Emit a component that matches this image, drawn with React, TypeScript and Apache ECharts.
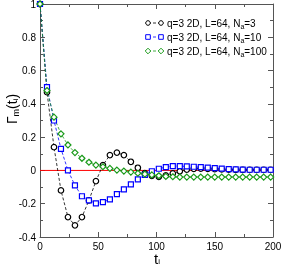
import React, { useEffect, useRef } from "react";
import * as echarts from "echarts";

const tValues = [0, 6, 12, 18, 24, 30, 36, 42, 48, 54, 60, 66, 72, 78, 84, 90, 96, 102, 108, 114, 120, 126, 132, 138, 144, 150, 156, 162, 168, 174, 180, 186, 192, 198];
const na3 = [1.0, 0.47, 0.14, -0.12, -0.28, -0.33, -0.28, -0.18, -0.064, 0.032, 0.092, 0.107, 0.092, 0.052, 0.016, -0.017, -0.032, -0.038, -0.03, -0.018, -0.005, 0.005, 0.01, 0.011, 0.01, 0.008, 0.006, 0.005, 0.004, 0.004, 0.004, 0.004, 0.004, 0.004];
const na10 = [1.0, 0.5, 0.3, 0.13, 0.0, -0.09, -0.155, -0.18, -0.198, -0.19, -0.174, -0.142, -0.114, -0.084, -0.054, -0.027, -0.005, 0.01, 0.02, 0.026, 0.026, 0.024, 0.022, 0.02, 0.017, 0.014, 0.011, 0.008, 0.006, 0.005, 0.004, 0.004, 0.004, 0.004];
const na100 = [1.0, 0.48, 0.32, 0.22, 0.153, 0.107, 0.073, 0.049, 0.032, 0.022, 0.012, 0.002, -0.004, -0.01, -0.017, -0.022, -0.027, -0.032, -0.036, -0.038, -0.04, -0.04, -0.04, -0.04, -0.04, -0.04, -0.04, -0.04, -0.04, -0.04, -0.04, -0.04, -0.04, -0.04];
const legendLabels = ["q=3 2D, L=64, N{sub|a}=3", "q=3 2D, L=64, N{sub|a}=10", "q=3 2D, L=64, N{sub|a}=100"];
const xTicks = [0, 50, 100, 150, 200];
const yTicks = [-0.4, -0.2, 0, 0.2, 0.4, 0.6, 0.8, 1];
const xTitle = "t{sub|i}";
const yTitle = "Γ{sub|m}(t{sub2|i})";

const BLACK = "#000000";
const BLUE = "#0000ff";
const GREEN = "#1a9a1a";
const FRAME = "#555555";
const FONT = "'Liberation Sans Narrow', 'Liberation Sans', Arial, sans-serif";

export default function App() {
  const ref = useRef<HTMLDivElement>(null);
  useEffect(() => {
    if (!ref.current) return;
    const chart = echarts.init(ref.current, null, { renderer: "svg" });
    const mk = (vals: number[]) => tValues.map((t, i) => [t, vals[i]]);
    const baseX = {
      type: "value" as const,
      min: xTicks[0],
      max: xTicks[xTicks.length - 1],
      interval: 50,
      axisLine: { onZero: false, lineStyle: { color: FRAME, width: 1 } },
      axisTick: { inside: true, length: 5, lineStyle: { color: FRAME } },
      minorTick: { show: true, splitNumber: 2, length: 3, lineStyle: { color: FRAME } },
      splitLine: { show: false },
    };
    const baseY = {
      type: "value" as const,
      min: yTicks[0],
      max: yTicks[yTicks.length - 1],
      interval: 0.2,
      axisLine: { onZero: false, lineStyle: { color: FRAME, width: 1 } },
      axisTick: { inside: true, length: 5, lineStyle: { color: FRAME } },
      minorTick: { show: true, splitNumber: 2, length: 3, lineStyle: { color: FRAME } },
      splitLine: { show: false },
    };
    const series = [
      { data: mk(na3), color: BLACK, symbol: "circle", size: 5.5 },
      { data: mk(na10), color: BLUE, symbol: "rect", size: 5 },
      { data: mk(na100), color: GREEN, symbol: "diamond", size: 6 },
    ].map((s) => ({
      type: "line",
      data: s.data,
      symbol: s.symbol,
      symbolSize: s.size,
      showAllSymbol: true,
      z: 3,
      lineStyle: { color: s.color, width: 0.8, type: [3, 2] },
      itemStyle: { color: "#ffffff", borderColor: s.color, borderWidth: 1.2 },
    }));
    const legendY = [23, 37, 51];
    const legendSym = [
      (x: number, y: number) => ({ type: "circle", shape: { cx: x, cy: y, r: 2.3 }, style: { fill: "#fff", stroke: BLACK, lineWidth: 1 } }),
      (x: number, y: number) => ({ type: "rect", shape: { x: x - 2.3, y: y - 2.3, width: 4.6, height: 4.6 }, style: { fill: "#fff", stroke: BLUE, lineWidth: 1 } }),
      (x: number, y: number) => ({ type: "polygon", shape: { points: [[x, y - 2.8], [x + 2.8, y], [x, y + 2.8], [x - 2.8, y]] }, style: { fill: "#fff", stroke: GREEN, lineWidth: 1 } }),
    ];
    const legendColors = [BLACK, BLUE, GREEN];
    const graphic: any[] = [];
    legendY.forEach((y, i) => {
      graphic.push({ type: "line", shape: { x1: 148, y1: y, x2: 161, y2: y }, style: { stroke: legendColors[i], lineWidth: 0.8, lineDash: [3, 2] } });
      graphic.push(legendSym[i](148, y));
      graphic.push(legendSym[i](161, y));
      graphic.push({
        type: "text",
        x: 167,
        y: y,
        style: {
          text: legendLabels[i],
          fill: "#000",
          fontSize: 10,
          fontFamily: FONT,
          verticalAlign: "middle",
          rich: { sub: { fontSize: 7, fontFamily: FONT, fill: "#000", padding: [6, 0, 0, 0] } },
        },
      });
    });
    graphic.push({
      type: "text",
      x: 157,
      y: 251,
      style: {
        text: xTitle,
        fill: "#000",
        fontSize: 15,
        fontFamily: FONT,
        align: "center",
        verticalAlign: "top",
        rich: { sub: { fontSize: 8, fontFamily: FONT, fill: "#000", padding: [6, 0, 0, 0] } },
      },
    });
    graphic.push({
      type: "text",
      x: 4,
      y: 109,
      rotation: Math.PI / 2,
      style: {
        text: yTitle,
        fill: "#000",
        fontSize: 14,
        fontFamily: FONT,
        align: "center",
        verticalAlign: "top",
        rich: {
          sub: { fontSize: 9, fontFamily: FONT, fill: "#000", padding: [7, 0, 0, 0] },
          sub2: { fontSize: 8, fontFamily: FONT, fill: "#000", padding: [7, 0, 0, 0] },
        },
      },
    });
    const fmtY = (v: number) => {
      const r = Math.round(v * 10) / 10;
      if (r === 0) return "0";
      if (r === 1) return "1";
      return r.toFixed(1);
    };
    chart.setOption({
      animation: false,
      grid: { left: 40, right: 10, top: 4, bottom: 31, containLabel: false, outerBoundsMode: "none" },
      xAxis: [
        {
          ...baseX,
          position: "bottom",
          axisLabel: { fontSize: 10, fontFamily: FONT, color: "#000", margin: 4 },
        },
        { ...baseX, position: "top", axisLabel: { show: false } },
      ],
      yAxis: [
        {
          ...baseY,
          position: "left",
          axisLabel: { fontSize: 10, fontFamily: FONT, color: "#000", margin: 4, formatter: fmtY },
        },
        { ...baseY, position: "right", axisLabel: { show: false } },
      ],
      series: [
        {
          type: "line",
          data: [[xTicks[0], 0], [xTicks[xTicks.length - 1], 0]],
          symbol: "none",
          z: 1,
          lineStyle: { color: "#ff0000", width: 1 },
          silent: true,
        },
        ...series,
      ],
      graphic,
    });
    return () => chart.dispose();
  }, []);
  return <div ref={ref} style={{ position: "fixed", left: 0, top: 0, width: 283, height: 268 }} />;
}
